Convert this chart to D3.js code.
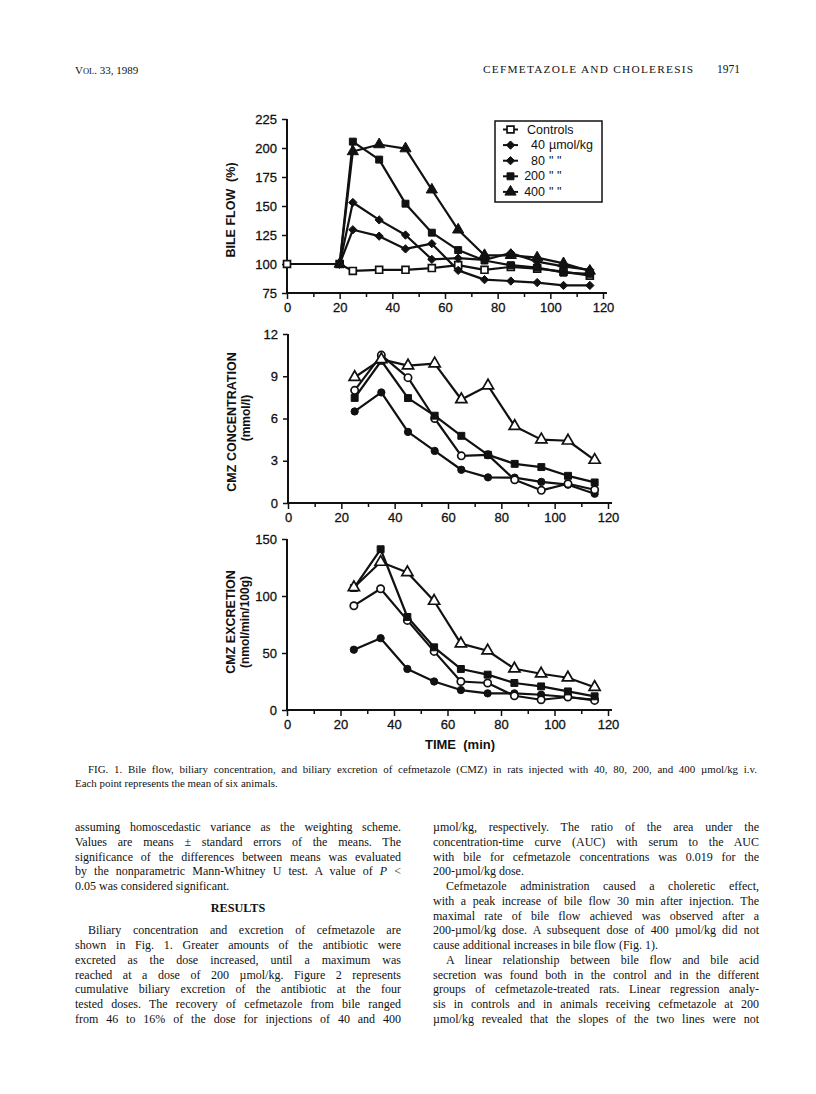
<!DOCTYPE html>
<html>
<head>
<meta charset="utf-8">
<script src="https://cdn.jsdelivr.net/npm/d3@7"></script>
<style>
  body { margin: 0; background: #fff; }
  svg text { fill: #111; }
  .axis text { font-family: "Liberation Sans", Arial, sans-serif; font-size: 13px; fill: #111; stroke: #111; stroke-width: 0.3px; }
  .axis path, .axis line { stroke: #111; }
</style>
</head>
<body>
<svg id="page" width="816" height="1094"></svg>
<script>
// sampling times (min)
const sampleTimes = [25, 35, 45, 55, 65, 75, 85, 95, 105, 115];
const controlTimes = [0, 20].concat(sampleTimes);
const doseFlowTimes = [20].concat(sampleTimes);

const xTicks = d3.range(0, 121, 10);
const flowTicks = [75, 100, 125, 150, 175, 200, 225];
const concTicks = [0, 3, 6, 9, 12];
const excTicks = [0, 50, 100, 150];

// bile flow (%)
const flowControls = [100, 100, 94, 95, 95, 96.5, 99, 95, 97.5, 96, 93.5, 90];
const flow40 = [100, 129.5, 124, 113, 117.5, 94.5, 86.5, 85.3, 84, 81.5, 81.5];
const flow80 = [100, 153, 138, 125, 104, 105, 103.5, 109.5, 102, 98, 95];
const flow200 = [100, 205.5, 190, 152, 127, 112, 103, 99, 97, 92.5, 91.5];
const flow400 = [100, 197, 203, 199.5, 164, 129.5, 107.5, 107.5, 105.5, 100.5, 94];

// CMZ concentration (mmol/l)
const conc40 = [6.5, 7.85, 5.05, 3.7, 2.36, 1.82, 1.8, 1.5, 1.3, 0.66];
const conc80 = [8.0, 10.5, 8.9, 6.0, 3.35, 3.42, 1.65, 0.9, 1.37, 0.94];
const conc200 = [7.46, 10.1, 7.45, 6.2, 4.77, 3.42, 2.78, 2.55, 1.93, 1.46];
const conc400 = [8.93, 10.2, 9.75, 9.9, 7.35, 8.33, 5.45, 4.5, 4.42, 3.05];

// CMZ excretion (nmol/min/100g)
const exc40 = [52.9, 63, 36, 25, 17.5, 14.6, 14.6, 13.4, 11.4, 9];
const exc80 = [91.5, 106.4, 78.6, 51.4, 25, 23.7, 12.5, 9, 11.4, 8.4];
const exc200 = [107, 141, 81.6, 55, 36, 31, 23.7, 20.7, 16.3, 12];
const exc400 = [107.5, 129.8, 120.7, 95.6, 58.2, 52, 36.2, 31.8, 28.3, 20];

const legendNames = ["Controls", "40", "80", "200", "400"];
const legendSuffix = ["", "µmol/kg", "\" \"", "\" \"", "\" \""];

const INK = "#111";
const sans = '"Liberation Sans", Arial, sans-serif';
const serif = '"Liberation Serif", "Times New Roman", serif';
const diamond = d3.symbolDiamond2 || d3.symbolDiamond;

const svg = d3.select("#page");
svg.append("rect").attr("width", 816).attr("height", 1094).attr("fill", "#fff");

// marker look for each series
const mk = {
  openSquare: { type: d3.symbolSquare, size: 48, open: true },
  square: { type: d3.symbolSquare, size: 48, open: false },
  diamond: { type: diamond, size: 44, open: false },
  triangle: { type: d3.symbolTriangle, size: 54, open: false },
  openTriangle: { type: d3.symbolTriangle, size: 54, open: true },
  circle: { type: d3.symbolCircle, size: 42, open: false },
  openCircle: { type: d3.symbolCircle, size: 42, open: true }
};

function drawMarker(g, m, px, py) {
  g.append("path")
    .attr("d", d3.symbol().type(m.type).size(m.size)())
    .attr("transform", `translate(${px},${py})`)
    .attr("fill", m.open ? "#fff" : INK)
    .attr("stroke", INK)
    .attr("stroke-width", m.open ? 1.7 : 1);
}

function drawPanel(cfg) {
  const g = svg.append("g");
  const x = d3.scaleLinear().domain([0, 120]).range(cfg.xRange);
  const y = d3.scaleLinear().domain(cfg.yDomain).range(cfg.yRange);
  const y0 = cfg.yRange[0];

  // x axis
  g.append("g").attr("class", "axis")
    .attr("transform", `translate(0,${y0})`)
    .call(d3.axisBottom(x).tickValues(xTicks)
      .tickFormat(d => d % 20 ? "" : d).tickSize(6).tickSizeOuter(0).tickPadding(4))
    .call(a => a.select(".domain").attr("d", `M${x(0)},0H${x(121.5)}`).attr("stroke-width", 2))
    .call(a => a.selectAll(".tick line").attr("stroke-width", 1.5)
      .filter(d => d % 20).attr("y2", 4));

  // y axis
  g.append("g").attr("class", "axis")
    .attr("transform", `translate(${cfg.xRange[0]},0)`)
    .call(d3.axisLeft(y).tickValues(cfg.yTicks).tickSize(5).tickSizeOuter(0).tickPadding(5))
    .call(a => a.select(".domain").attr("d", `M0,${cfg.yRange[0]}V${cfg.yRange[1]}`).attr("stroke-width", 2))
    .call(a => a.selectAll(".tick line").attr("stroke-width", 1.5));

  // axis titles
  cfg.titles.forEach(t => {
    g.append("text")
      .attr("transform", `translate(${t.x},${t.y}) rotate(-90)`)
      .attr("text-anchor", "middle")
      .attr("dominant-baseline", "central")
      .attr("font-family", sans).attr("font-weight", "bold").attr("font-size", t.size || 12.5)
      .style("white-space", "pre")
      .text(t.text);
  });

  const line = d3.line().x(d => x(d[0])).y(d => y(d[1]));
  cfg.series.forEach(s => {
    const pts = s.times.map((t, i) => [t, s.values[i]]);
    g.append("path").datum(pts)
      .attr("d", line).attr("fill", "none")
      .attr("stroke", INK).attr("stroke-width", 2.2).attr("stroke-linejoin", "round");
  });
  cfg.series.forEach(s => {
    s.times.forEach((t, i) => drawMarker(g, s.marker, x(t), y(s.values[i])));
  });
  return { g, x, y };
}

// ---- panel 1: bile flow
drawPanel({
  xRange: [287, 603], yDomain: [75, 225], yRange: [293, 119], yTicks: flowTicks,
  titles: [{ text: "BILE FLOW  (%)", x: 231, y: 210 }],
  series: [
    { times: controlTimes, values: flowControls, marker: mk.openSquare },
    { times: doseFlowTimes, values: flow40, marker: mk.diamond },
    { times: doseFlowTimes, values: flow80, marker: mk.diamond },
    { times: doseFlowTimes, values: flow200, marker: mk.square },
    { times: doseFlowTimes, values: flow400, marker: mk.triangle }
  ]
});

// legend
const leg = svg.append("g");
leg.append("rect").attr("x", 495).attr("y", 121).attr("width", 107).attr("height", 81)
  .attr("fill", "#fff").attr("stroke", INK).attr("stroke-width", 1.5);
const legMarkers = [mk.openSquare, mk.diamond, mk.diamond, mk.square, mk.triangle];
legendNames.forEach((name, i) => {
  const ry = 129.5 + i * 15.6;
  leg.append("line").attr("x1", 503).attr("x2", 518).attr("y1", ry).attr("y2", ry)
    .attr("stroke", INK).attr("stroke-width", 2);
  drawMarker(leg, legMarkers[i], 510.5, ry);
  const t = leg.append("text").attr("y", ry).attr("dominant-baseline", "central")
    .attr("font-family", sans).attr("font-size", 12.5);
  if (i === 0) {
    t.attr("x", 527).text(name);
  } else {
    t.attr("x", 545).attr("text-anchor", "end").text(name);
    leg.append("text").attr("x", 549).attr("y", ry).attr("dominant-baseline", "central")
      .attr("font-family", sans).attr("font-size", 12.5).style("white-space", "pre")
      .text(legendSuffix[i]);
  }
});

// ---- panel 2: concentration
drawPanel({
  xRange: [288, 608], yDomain: [0, 12], yRange: [503, 334], yTicks: concTicks,
  titles: [{ text: "CMZ CONCENTRATION", x: 232, y: 422 }, { text: "(mmol/l)", x: 246, y: 418, size: 12 }],
  series: [
    { times: sampleTimes, values: conc40, marker: mk.circle },
    { times: sampleTimes, values: conc80, marker: mk.openCircle },
    { times: sampleTimes, values: conc200, marker: mk.square },
    { times: sampleTimes, values: conc400, marker: mk.openTriangle }
  ]
});

// ---- panel 3: excretion
drawPanel({
  xRange: [287, 608], yDomain: [0, 150], yRange: [710, 539], yTicks: excTicks,
  titles: [{ text: "CMZ EXCRETION", x: 231, y: 622 }, { text: "(nmol/min/100g)", x: 245, y: 622, size: 12 }],
  series: [
    { times: sampleTimes, values: exc40, marker: mk.circle },
    { times: sampleTimes, values: exc80, marker: mk.openCircle },
    { times: sampleTimes, values: exc200, marker: mk.square },
    { times: sampleTimes, values: exc400, marker: mk.openTriangle }
  ]
});

svg.append("text").attr("x", 460).attr("y", 744).attr("text-anchor", "middle")
  .attr("dominant-baseline", "central")
  .attr("font-family", sans).attr("font-weight", "bold").attr("font-size", 13)
  .style("white-space", "pre").text("TIME  (min)");

// ---- page text
// header
const hdr = svg.append("g").attr("font-family", serif);
const vol = hdr.append("text").attr("x", 75).attr("y", 74).attr("font-size", 11);
vol.append("tspan").text("V");
vol.append("tspan").attr("font-size", 8.5).text("OL");
vol.append("tspan").text(". 33, 1989");
hdr.append("text").attr("x", 483).attr("y", 73).attr("font-size", 11.3)
  .attr("textLength", 210).attr("lengthAdjust", "spacing").text("CEFMETAZOLE AND CHOLERESIS");
hdr.append("text").attr("x", 740).attr("y", 73).attr("text-anchor", "end").attr("font-size", 11.5).text("1971");

// justified line of text; parts = [[string, italic?], ...]
function textLine(x, y, width, parts, opts = {}) {
  const t = svg.append("text").attr("x", x).attr("y", y)
    .attr("font-family", serif).attr("font-size", opts.size || 12);
  parts.forEach(p => {
    const s = typeof p === "string" ? p : p[0];
    const ts = t.append("tspan").text(s);
    if (typeof p !== "string" && p[1]) ts.attr("font-style", "italic");
  });
  if (opts.justify !== false) {
    const full = parts.map(p => typeof p === "string" ? p : p[0]).join("");
    const nSpaces = (full.match(/ /g) || []).length;
    const w = t.node().getComputedTextLength();
    if (nSpaces) t.style("word-spacing", ((width - w) / nSpaces) + "px");
  }
  return t;
}

// caption
textLine(88, 773, 669, ["FIG. 1. Bile flow, biliary concentration, and biliary excretion of cefmetazole (CMZ) in rats injected with 40, 80, 200, and 400 µmol/kg i.v."], { size: 10.9 });
textLine(75, 787, 0, ["Each point represents the mean of six animals."], { size: 10.9, justify: false });

const COLW = 326, LEAD = 14.77, IND = 13;
const leftX = 75, rightX = 433, TOP = 831;

const leftTop = [
  ["assuming homoscedastic variance as the weighting scheme."],
  ["Values are means ± standard errors of the means. The"],
  ["significance of the differences between means was evaluated"],
  ["by the nonparametric Mann-Whitney U test. A value of ", ["P", true], " <"],
  ["0.05 was considered significant."]
];
leftTop.forEach((p, i) => textLine(leftX, TOP + i * LEAD, COLW, p, { justify: i < 4 }));

svg.append("text").attr("x", leftX + COLW / 2).attr("y", TOP + 5.5 * LEAD).attr("text-anchor", "middle")
  .attr("font-family", serif).attr("font-weight", "bold").attr("font-size", 12.2).text("RESULTS");

const leftBottom = [
  "Biliary concentration and excretion of cefmetazole are",
  "shown in Fig. 1. Greater amounts of the antibiotic were",
  "excreted as the dose increased, until a maximum was",
  "reached at a dose of 200 µmol/kg. Figure 2 represents",
  "cumulative biliary excretion of the antibiotic at the four",
  "tested doses. The recovery of cefmetazole from bile ranged",
  "from 46 to 16% of the dose for injections of 40 and 400"
];
leftBottom.forEach((s, i) => {
  const ind = i === 0 ? IND : 0;
  textLine(leftX + ind, TOP + (7 + i) * LEAD, COLW - ind, [s]);
});

const rightLines = [
  ["µmol/kg, respectively. The ratio of the area under the", 0, true],
  ["concentration-time curve (AUC) with serum to the AUC", 0, true],
  ["with bile for cefmetazole concentrations was 0.019 for the", 0, true],
  ["200-µmol/kg dose.", 0, false],
  ["Cefmetazole administration caused a choleretic effect,", 1, true],
  ["with a peak increase of bile flow 30 min after injection. The", 0, true],
  ["maximal rate of bile flow achieved was observed after a", 0, true],
  ["200-µmol/kg dose. A subsequent dose of 400 µmol/kg did not", 0, true],
  ["cause additional increases in bile flow (Fig. 1).", 0, false],
  ["A linear relationship between bile flow and bile acid", 1, true],
  ["secretion was found both in the control and in the different", 0, true],
  ["groups of cefmetazole-treated rats. Linear regression analy-", 0, true],
  ["sis in controls and in animals receiving cefmetazole at 200", 0, true],
  ["µmol/kg revealed that the slopes of the two lines were not", 0, true]
];
rightLines.forEach(([s, ind, j], i) => {
  const dx = ind ? IND : 0;
  textLine(rightX + dx, TOP + i * LEAD, COLW - dx, [s], { justify: j });
});
</script>
</body>
</html>
